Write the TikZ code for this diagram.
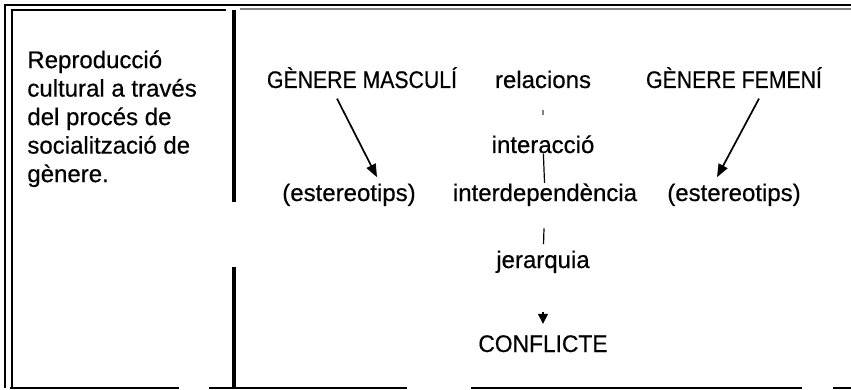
\documentclass[tikz,border=0pt]{standalone}
\usepackage{fontspec}
\setmainfont{Liberation Sans}[FakeBold=0.5]
\usetikzlibrary{arrows.meta}
\usetikzlibrary{positioning}

\begin{document}
\begin{tikzpicture}
		[x=0.5pt, y=-0.5pt,
		> = {Triangle[length=6.5pt,width=5pt]},
		every node/.style={inner sep=0pt, font=\fontsize{12}{14.25}\selectfont},
		frame/.style = {line width=1pt},
		divider/.style = {line width=1.6pt},
		link/.style = {line width=0.6pt},
		pointer/.style = {line width=0.85pt, ->}
		]
		\useasboundingbox (0,0) rectangle (851,390);

		% frame of the table
		\draw[frame] (5,388) -- (5,5) -- (851,5);
		\draw[frame] (12,388) -- (12,10) -- (226,10);
		\draw[frame, gray] (240,9) -- (851,9);
		\draw[divider] (234,10) -- (234,202);
		\draw[divider] (234,267) -- (234,388);
		\foreach \a/\b in {10/179, 209/407, 471/802, 833/851}
			\draw[frame] (\a,388) -- (\b,388);

		% left column
		\node[anchor=north west, align=left] (topic) at (27,50)
			{Reproducció\\cultural a través\\del procés de\\socialització de\\gènere.};

		% right column
		\node[anchor=base] (masculi) at (362,88) {\scalebox{0.885}[1]{GÈNERE MASCULÍ}};
		\node[anchor=base] (relacions) at (543,88) {relacions};
		\node[anchor=base] (femeni) at (734,88) {\scalebox{0.885}[1]{GÈNERE FEMENÍ}};
		\node[anchor=base] (interaccio) at (543,153) {interacció};
		\node[anchor=base] (esterM) at (349,201) {(estereotips)};
		\node[anchor=base] (interdep) at (545,201) {interdependència};
		\node[anchor=base] (esterF) at (734,201) {(estereotips)};
		\node[anchor=base] (jerarquia) at (543,268) {jerarquia};
		\node[anchor=base] (conflicte) at (543,352) {\scalebox{0.95}[1]{CONFLICTE}};

		\draw[pointer] ([xshift=-12.5pt,yshift=-5pt]masculi.south) -- ([xshift=14pt,yshift=3pt]esterM.north);
		\draw[pointer] ([xshift=12.5pt,yshift=-5pt]femeni.south) -- ([xshift=-8.5pt,yshift=3pt]esterF.north);

		\draw[link, gray, shorten <=10.5pt, shorten >=10pt] (relacions) -- (interaccio);
		\draw[link] (interaccio) -- (interdep);
		\draw[link, shorten <=11pt, shorten >=3pt] (interdep) -- (jerarquia);
		\draw[link, -{Triangle[length=5pt,width=5pt]}, shorten <=19.5pt, shorten >=5.5pt] (jerarquia) -- (conflicte);
	\end{tikzpicture}
\end{document}
